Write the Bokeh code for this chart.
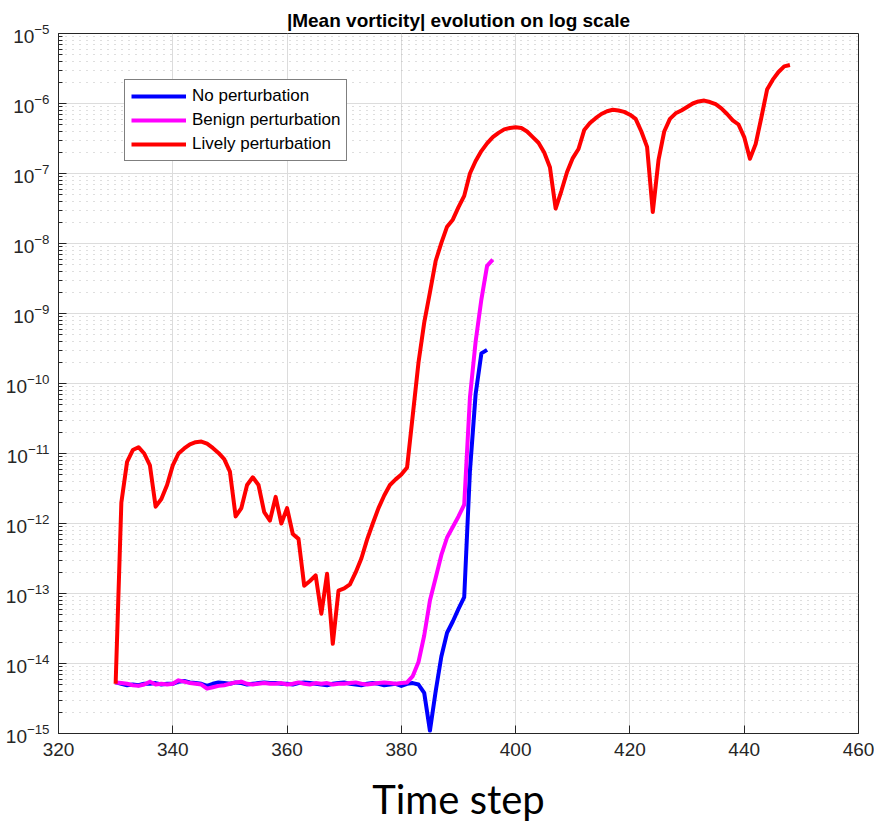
from bokeh.plotting import figure
from bokeh.models import (FixedTicker, Legend, LegendItem,
                          ColumnDataSource, Range1d, LogTickFormatter)
from bokeh.embed import file_html
from bokeh.resources import INLINE

# ---------------- data ----------------
title_text = "|Mean vorticity| evolution on log scale"
x_label = "Time step"
series_names = ["No perturbation", "Benign perturbation", "Lively perturbation"]
series_colors = ["#0000ff", "#ff00ff", "#ff0000"]

x_ticks = [320, 340, 360, 380, 400, 420, 440, 460]
y_ticks = [1e-15, 1e-14, 1e-13, 1e-12, 1e-11, 1e-10, 1e-9, 1e-8, 1e-7, 1e-6, 1e-5]

steps_none = list(range(330, 396))
vort_none = [
    5.37e-15, 5.13e-15, 4.90e-15, 5.01e-15, 4.90e-15, 5.13e-15, 5.13e-15, 5.25e-15, 5.01e-15, 5.13e-15,
    5.13e-15, 5.50e-15, 5.62e-15, 5.37e-15, 5.25e-15, 5.13e-15, 4.79e-15, 5.13e-15, 5.37e-15, 5.25e-15,
    5.13e-15, 5.37e-15, 5.25e-15, 5.01e-15, 5.13e-15, 5.25e-15, 5.37e-15, 5.25e-15, 5.25e-15, 5.13e-15,
    5.13e-15, 5.01e-15, 5.25e-15, 5.37e-15, 5.25e-15, 5.13e-15, 5.01e-15, 4.90e-15, 5.13e-15, 5.25e-15,
    5.37e-15, 5.13e-15, 5.01e-15, 4.90e-15, 5.13e-15, 5.25e-15, 5.13e-15, 4.90e-15, 5.01e-15, 5.13e-15,
    4.79e-15, 5.13e-15, 5.25e-15, 5.01e-15, 3.80e-15, 1.10e-15, 3.98e-15, 1.26e-14, 2.75e-14, 3.98e-14,
    6.03e-14, 8.91e-14, 5.62e-12, 7.08e-11, 2.69e-10, 3.02e-10,
]

steps_benign = list(range(330, 397))
vort_benign = [
    5.37e-15, 5.25e-15, 5.13e-15, 4.90e-15, 4.79e-15, 5.01e-15, 5.50e-15, 5.01e-15, 5.13e-15, 5.01e-15,
    5.13e-15, 5.75e-15, 5.50e-15, 5.25e-15, 5.13e-15, 5.01e-15, 4.37e-15, 4.57e-15, 4.79e-15, 4.90e-15,
    5.13e-15, 5.37e-15, 5.50e-15, 5.13e-15, 5.01e-15, 5.13e-15, 5.25e-15, 5.13e-15, 5.13e-15, 5.25e-15,
    5.01e-15, 5.13e-15, 5.37e-15, 5.13e-15, 5.01e-15, 5.25e-15, 5.13e-15, 5.25e-15, 5.01e-15, 5.13e-15,
    5.13e-15, 5.25e-15, 5.37e-15, 5.13e-15, 5.01e-15, 5.13e-15, 5.25e-15, 5.37e-15, 5.25e-15, 5.13e-15,
    5.25e-15, 5.37e-15, 6.61e-15, 1.05e-14, 2.51e-14, 7.94e-14, 1.66e-13, 3.55e-13, 6.31e-13, 8.91e-13,
    1.26e-12, 1.86e-12, 6.31e-11, 3.98e-10, 1.58e-09, 4.79e-09, 5.89e-09,
]

steps_lively = list(range(330, 449))
vort_lively = [
    5.13e-15, 2.00e-12, 7.59e-12, 1.12e-11, 1.23e-11, 1.00e-11, 6.76e-12, 1.74e-12, 2.24e-12, 3.55e-12,
    6.76e-12, 1.00e-11, 1.18e-11, 1.35e-11, 1.45e-11, 1.48e-11, 1.38e-11, 1.20e-11, 1.02e-11, 8.32e-12,
    5.50e-12, 1.26e-12, 1.66e-12, 3.55e-12, 4.57e-12, 3.55e-12, 1.45e-12, 1.10e-12, 2.40e-12, 1.00e-12,
    1.66e-12, 7.08e-13, 6.03e-13, 1.29e-13, 1.51e-13, 1.82e-13, 5.13e-14, 1.91e-13, 1.91e-14, 1.10e-13,
    1.18e-13, 1.35e-13, 2.00e-13, 3.16e-13, 5.89e-13, 1.00e-12, 1.66e-12, 2.51e-12, 3.55e-12, 4.27e-12,
    5.01e-12, 6.31e-12, 3.55e-11, 2.00e-10, 7.41e-10, 2.00e-09, 5.62e-09, 1.02e-08, 1.74e-08, 2.19e-08,
    3.31e-08, 4.79e-08, 1.00e-07, 1.51e-07, 2.09e-07, 2.69e-07, 3.31e-07, 3.80e-07, 4.27e-07, 4.47e-07,
    4.57e-07, 4.47e-07, 3.98e-07, 3.31e-07, 2.75e-07, 2.00e-07, 1.23e-07, 3.16e-08, 5.62e-08, 1.05e-07,
    1.66e-07, 2.24e-07, 4.17e-07, 5.25e-07, 6.17e-07, 7.08e-07, 7.76e-07, 8.13e-07, 7.94e-07, 7.59e-07,
    6.92e-07, 6.03e-07, 3.98e-07, 2.40e-07, 2.82e-08, 1.55e-07, 3.98e-07, 6.03e-07, 7.24e-07, 7.94e-07,
    8.91e-07, 1.00e-06, 1.07e-06, 1.10e-06, 1.05e-06, 9.77e-07, 8.51e-07, 7.08e-07, 5.75e-07, 5.01e-07,
    3.31e-07, 1.62e-07, 2.63e-07, 6.31e-07, 1.58e-06, 2.19e-06, 2.82e-06, 3.39e-06, 3.55e-06,
]

# ---------------- figure ----------------
TICK_FONT = "Liberation Sans"
AX_COLOR = "#262626"

minor_y = [m * 10.0 ** e for e in range(-15, -5) for m in range(2, 10)]

p = figure(frame_width=800, frame_height=700, y_axis_type="log",
           x_range=Range1d(320, 460), y_range=Range1d(1e-15, 1e-5),
           output_backend="svg", toolbar_location=None,
           min_border_left=58, min_border_right=16, min_border_top=33, min_border_bottom=92)

p.title.text = title_text
p.title.align = "center"
p.title.text_font = TICK_FONT
p.title.text_font_size = "19px"
p.title.text_font_style = "bold"
p.title.text_color = "#000000"
p.title.standoff = 6
p.title.offset = 0

p.background_fill_color = "white"
p.border_fill_color = "white"
p.outline_line_color = AX_COLOR
p.outline_line_width = 1

# axes
xt = FixedTicker(ticks=x_ticks)
yt = FixedTicker(ticks=y_ticks, minor_ticks=minor_y)

for ax in p.xaxis:
    ax.ticker = xt
    ax.axis_label = x_label
    ax.axis_label_text_font = "Lato"
    ax.axis_label_text_font_size = "40px"
    ax.axis_label_text_font_style = "normal"
    ax.axis_label_text_color = "#000000"
    ax.axis_label_standoff = 16
for ax in p.yaxis:
    ax.ticker = yt
    ax.formatter = LogTickFormatter()

for ax in p.axis:
    ax.major_label_text_font = TICK_FONT
    ax.major_label_text_font_size = "19px"
    ax.major_label_text_color = AX_COLOR
    ax.axis_line_color = AX_COLOR
    ax.major_tick_line_color = AX_COLOR
    ax.minor_tick_line_color = AX_COLOR
    ax.major_tick_in = 8
    ax.major_tick_out = 0
    ax.minor_tick_in = 4
    ax.minor_tick_out = 0
    ax.major_label_standoff = 9

# grid
p.xgrid.ticker = xt
p.ygrid.ticker = yt
p.xgrid.grid_line_color = "#dcdcdc"
p.ygrid.grid_line_color = "#dcdcdc"
p.ygrid.minor_grid_line_color = "#bcbcbc"
p.ygrid.minor_grid_line_dash = "1 6"
p.ygrid.minor_grid_line_width = 1

# lines
renderers = []
for xs, ys, c in [(steps_none, vort_none, series_colors[0]),
                  (steps_benign, vort_benign, series_colors[1]),
                  (steps_lively, vort_lively, series_colors[2])]:
    src = ColumnDataSource(dict(x=xs, y=ys))
    r = p.line("x", "y", source=src, line_color=c, line_width=4, line_join="round")
    renderers.append(r)

legend = Legend(items=[LegendItem(label=n, renderers=[r]) for n, r in zip(series_names, renderers)],
                location=(66, 572), orientation="vertical")
legend.border_line_color = "#000000"
legend.border_line_width = 1
legend.background_fill_color = "white"
legend.background_fill_alpha = 1.0
legend.label_text_font = TICK_FONT
legend.label_text_font_size = "17px"
legend.label_text_color = "#000000"
legend.glyph_width = 55
legend.glyph_height = 20
legend.label_height = 20
legend.label_standoff = 6
legend.padding = 6
legend.spacing = 4
legend.margin = 0
p.add_layout(legend)

open("out.html", "w").write(file_html(p, INLINE))
